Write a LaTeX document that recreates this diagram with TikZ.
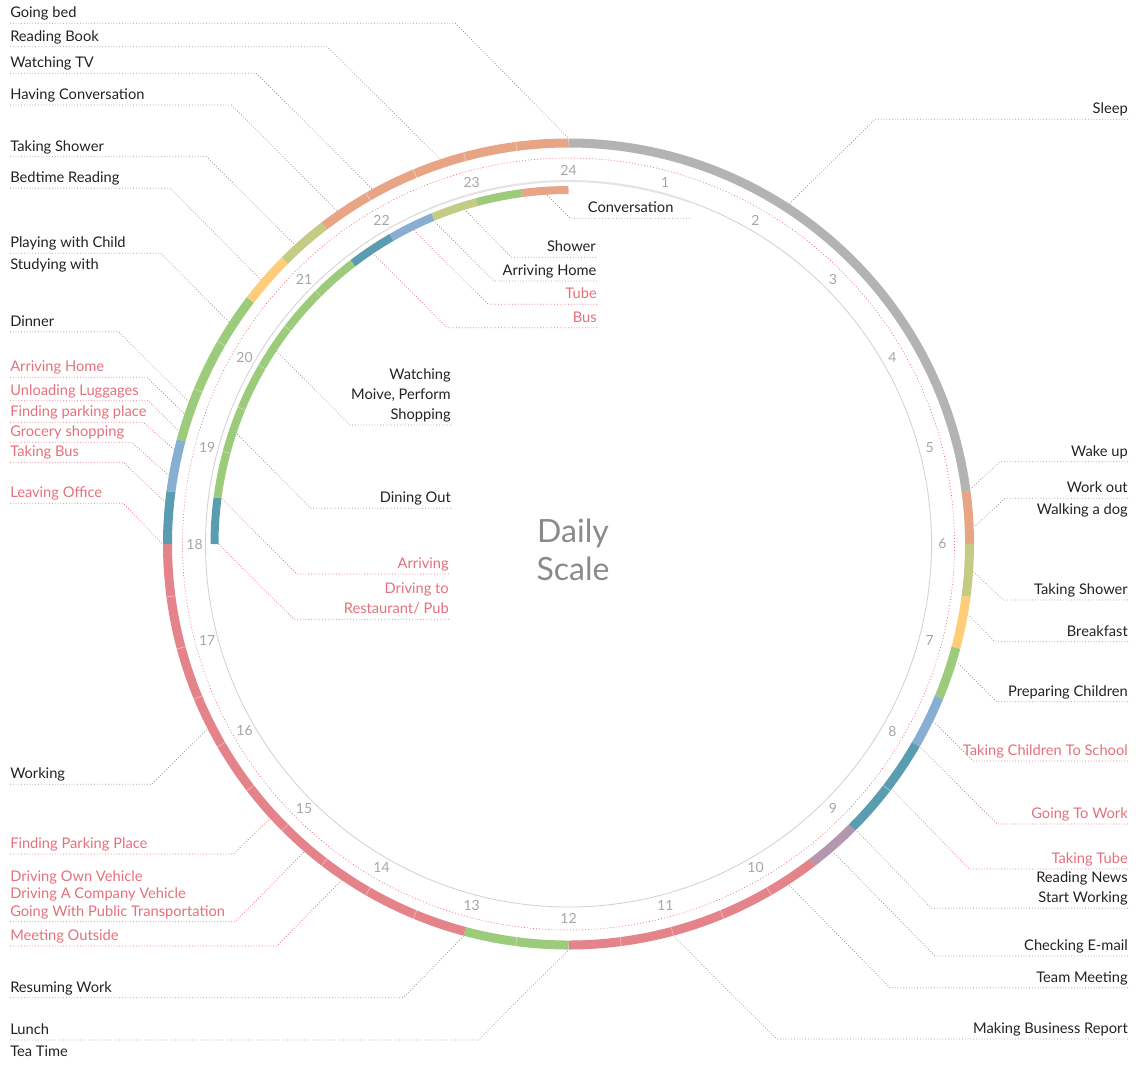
\documentclass[tikz,border=0pt]{standalone}
\usepackage{fontspec}
\setmainfont{Lato}
\usepackage{tikz}
\usepackage{xcolor}

\definecolor{ink}{HTML}{222222}
\definecolor{labelred}{HTML}{E5707B}
\definecolor{leadgray}{HTML}{9A9A9A}
\definecolor{hourgray}{HTML}{A6A6A6}
\definecolor{facegray}{HTML}{CFCFCF}
\definecolor{titlegray}{HTML}{8A8A8E}
\definecolor{sleepgray}{HTML}{B3B3B3}
\definecolor{salmon}{HTML}{E8A586}
\definecolor{showergreen}{HTML}{C3CB85}
\definecolor{mealyellow}{HTML}{FFCC7A}
\definecolor{leafgreen}{HTML}{9BCB7B}
\definecolor{skyblue}{HTML}{88AED2}
\definecolor{tealblue}{HTML}{5A9DB0}
\definecolor{mauve}{HTML}{B496B0}
\definecolor{workred}{HTML}{E5838A}

\begin{document}
\begin{tikzpicture}[x=0.75pt,y=-0.75pt,
    lbl/.style={font=\fontsize{11}{14.8}\selectfont, text=ink, inner xsep=0pt, inner ysep=4pt, text depth=0pt},
    redlbl/.style={lbl, text=labelred},
    lead/.style={draw=leadgray, line width=0.6pt, dash pattern=on 0.6pt off 1.5pt},
    redlead/.style={lead, draw=labelred},
    hour/.style={font=\fontsize{10.5}{12}\selectfont, text=hourgray, inner sep=0pt},
    seg/.style={line width=6.75pt},
    inseg/.style={line width=6pt},
    divider/.style={draw=white, line width=0.5pt, opacity=0.45}]
    % Define parameters
    \def\rout{401}
    \def\rin{354}
    \def\rface{363}
    \def\rdots{386}
    \def\rnum{374}
    \def\rhit{406}  % leader lines meet the outer ring
    \def\rhin{350}  % leader lines meet the inner ring

\useasboundingbox (0,0) rectangle (1138,1075);
\coordinate (c) at (568.5,544);

% Clock face
\begin{scope}[shift={(c)}]
    \draw[facegray, line width=0.6pt] (0,0) circle (\rface);
    \draw[facegray!55, line width=1.6pt] (247.5:\rface) arc[start angle=247.5, end angle=289.5, radius=\rface];
    \draw[labelred, line width=0.5pt, dash pattern=on 0.7pt off 1.6pt] (0,0) circle (\rdots);

    % Hours
    \foreach \hr in {1,...,24}
        \node[hour] (hr\hr) at (\hr*15-90:\rnum) {\hr};

    % Outer ring: the whole day
    \foreach \ha/\hb/\col in {0/5.5/sleepgray, 5.5/6/salmon, 6/6.5/showergreen, 6.5/7/mealyellow,
            7/7.5/leafgreen, 7.5/8/skyblue, 8/9/tealblue, 9/9.5/mauve, 9.5/12/workred,
            12/13/leafgreen, 13/18/workred, 18/18.5/tealblue, 18.5/19/skyblue,
            19/20.5/leafgreen, 20.5/21/mealyellow, 21/21.5/showergreen, 21.5/24/salmon}
        \draw[seg, draw=\col] (\ha*15-90:\rout) arc[start angle=\ha*15-90, end angle=\hb*15-90, radius=\rout];
    \foreach \hr in {8.5,10,10.5,11,11.5,12.5,13.5,14,...,17.5,19.5,20,22,22.5,23,23.5}
        \draw[divider] (\hr*15-90:396.5) -- (\hr*15-90:405.5);

    % Inner ring: the evening out
    \foreach \ha/\hb/\col in {18/18.5/tealblue, 18.5/21.5/leafgreen, 21.5/22/tealblue,
            22/22.5/skyblue, 22.5/23/showergreen, 23/23.5/leafgreen, 23.5/24/salmon}
        \draw[inseg, draw=\col] (\ha*15-90:\rin) arc[start angle=\ha*15-90, end angle=\hb*15-90, radius=\rin];
    \foreach \hr in {19,19.5,...,21}
        \draw[divider] (\hr*15-90:350) -- (\hr*15-90:358);
\end{scope}

\node[font=\fontsize{24}{28.5}\selectfont, text=titlegray, align=center] (title) at (573,550) {Daily\\Scale};

% Labels on the left
\foreach \nm/\txt/\uy/\bx/\hr in {gobed/Going bed/23.3/455.4/24,
        readbook/Reading Book/46.7/327.2/22.77,
        watchtv/Watching TV/73.3/256.4/22.07,
        havconv/Having Conversation/105/231.5/21.68,
        takshow/Taking Shower/156.7/206.7/21.17,
        bedread/Bedtime Reading/188.3/170.3/20.71,
        playchild/Playing with Child/253.3/160.7/20.21,
        dinner/Dinner/331.7/118.6/19.37,
        working/Working/784.3/151.7/16.19,
        resume/Resuming Work/997.7/403.3/13,
        lunch/Lunch/1040/478.3/12}{
    \node[lbl, align=left, anchor=south west] (\nm) at (10,\uy) {\txt};
    \path (c) ++(\hr*15-90:\rhit) coordinate (\nm-end);
    \draw[lead] (\nm.south west) -- (\bx,\uy) -- (\nm-end);
}
\foreach \nm/\txt/\uy/\bx/\hr in {arrhome/Arriving Home/377.3/146.7/19.25,
        unload/Unloading Luggages/400.7/148.3/19.08,
        findpark/Finding parking place/422.3/143.3/18.9,
        grocery/Grocery shopping/442.3/131.7/18.65,
        takbus/Taking Bus/462.3/123.3/18.4,
        leaveoff/Leaving Office/503.3/123.3/18,
        findpark2/Finding Parking Place/854/233.3/15.16,
        transport/{Driving Own Vehicle\\Driving A Company Vehicle\\Going With Public Transportation}/921.7/235/14.71,
        meetout/Meeting Outside/946/276.7/14.27}{
    \node[redlbl, font=\fontsize{11}{13}\selectfont, align=left, anchor=south west] (\nm) at (10,\uy) {\txt};
    \path (c) ++(\hr*15-90:\rhit) coordinate (\nm-end);
    \draw[redlead] (\nm.south west) -- (\bx,\uy) -- (\nm-end);
}
\node[lbl, anchor=north west] (studywith) at (playchild.south west) {Studying with};
\node[lbl, anchor=north west] (teatime) at (lunch.south west) {Tea Time};

% Labels on the right
\foreach \nm/\txt/\uy/\bx/\hr in {sleep/Sleep/119.3/875/2.2,
        wakeup/Wake up/461.7/1000/5.48,
        workout/Work out/498.3/1005/5.84,
        takshow2/Taking Shower/600/1003.3/6.26,
        breakfast/Breakfast/641.7/995/6.67,
        prepchild/Preparing Children/701.7/996.7/7.13,
        readnews/{Reading News\\Start Working}/908.3/931.7/8.99,
        chkmail/Checking E-mail/956/935/9.29,
        teammeet/Team Meeting/987.7/890/9.81,
        bizreport/Making Business Report/1039/776.7/11}{
    \node[lbl, align=right, anchor=south east] (\nm) at (1128,\uy) {\txt};
    \path (c) ++(\hr*15-90:\rhit) coordinate (\nm-end);
    \draw[lead] (\nm.south east) -- (\bx,\uy) -- (\nm-end);
}
\foreach \nm/\txt/\uy/\bx/\hr in {takschool/Taking Children To School/761/973.3/7.73,
        gowork/Going To Work/824/997.3/8,
        taktube/Taking Tube/869/969.3/8.48}{
    \node[redlbl, align=right, anchor=south east] (\nm) at (1128,\uy) {\txt};
    \path (c) ++(\hr*15-90:\rhit) coordinate (\nm-end);
    \draw[redlead] (\nm.south east) -- (\bx,\uy) -- (\nm-end);
}
\node[lbl, anchor=north east] (walkdog) at (workout.south east) {Walking a dog};

% Labels inside the clock
\node[lbl, anchor=south west] (conv) at (587.7,218.3) {Conversation};
\path (c) ++(23.76*15-90:\rhin) coordinate (conv-end);
\draw[lead] ([xshift=12pt]conv.south east) -- (570,218.3) -- (conv-end);
\foreach \nm/\txt/\tx/\uy/\bx/\hr in {shower/Shower/596/257.3/511.7/22.85,
        arrhome2/Arriving Home/596.7/281/494/22.49,
        watchmov/{Watching\\Moive, Perform\\Shopping}/451/425/350/20.23,
        dineout/Dining Out/451/508.3/311/19.23}{
    \node[lbl, align=right, anchor=south east] (\nm) at (\tx,\uy) {\txt};
    \path (c) ++(\hr*15-90:\rhin) coordinate (\nm-end);
    \draw[lead] (\nm.south east) -- (\bx,\uy) -- (\nm-end);
}
\foreach \nm/\txt/\tx/\uy/\bx/\hr in {tube/Tube/597/304.3/488.3/22.25,
        bus/Bus/597/327.7/447/21.74,
        arriving/Arriving/449/574/296.7/18.5,
        drivrest/{Driving to~\\Restaurant/ Pub}/449/619.3/294/18}{
    \node[redlbl, align=right, anchor=south east] (\nm) at (\tx,\uy) {\txt};
    \path (c) ++(\hr*15-90:\rhin) coordinate (\nm-end);
    \draw[redlead] (\nm.south east) -- (\bx,\uy) -- (\nm-end);
}

\end{tikzpicture}
\end{document}
